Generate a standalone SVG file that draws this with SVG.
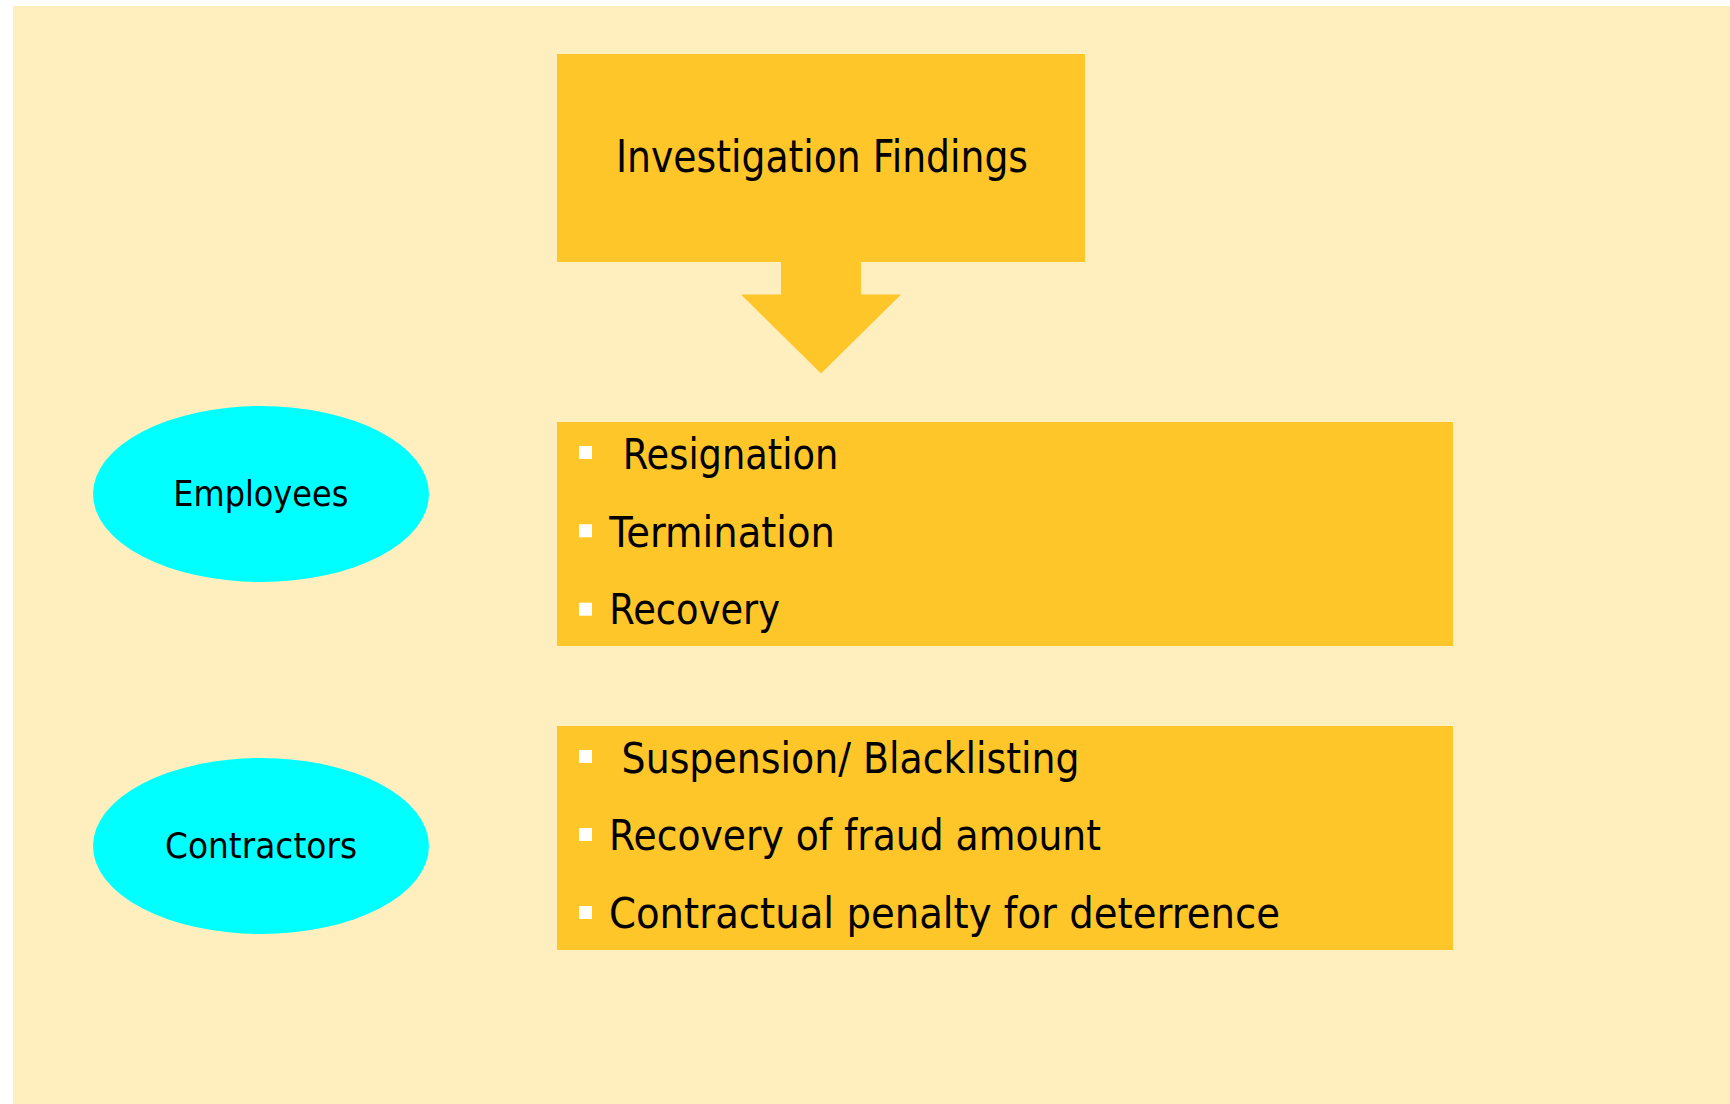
<svg xmlns="http://www.w3.org/2000/svg" width="1730" height="1104" viewBox="0 0 1730 1104">
<style>
.bg{fill:#FFEFBF}
.box{fill:#FFC629}
.ell{fill:#00FFFF}
.bul{fill:#FFFFFF}
text{font-family:"DejaVu Sans","Liberation Sans",sans-serif;fill:#000}
.t1{font-size:44px}
.t2{font-size:42px}
.t3{font-size:36px}
</style>
<rect x="0" y="0" width="1730" height="1104" fill="#FFFFFF"/>
<rect class="bg" x="13" y="6" width="1717" height="1098"/>
<g id="findings">
<rect class="box" x="557" y="54" width="528" height="208"/>
<text class="t1" x="616" y="171.7" textLength="412" lengthAdjust="spacingAndGlyphs">Investigation Findings</text>
</g>
<g id="connectors">
<polygon class="box" points="781,261 861,261 861,294.5 901,294.5 821,373.5 741,294.5 781,294.5"/>
</g>
<g id="employees">
<ellipse class="ell" cx="261" cy="494" rx="168" ry="88"/>
<text class="t3" x="173.3" y="506" textLength="175" lengthAdjust="spacingAndGlyphs">Employees</text>
</g>
<g id="employee-actions">
<rect class="box" x="557" y="422" width="896" height="224"/>
<rect class="bul" x="579" y="446" width="13" height="13"/>
<text class="t2" x="622.7" y="469" textLength="215.6" lengthAdjust="spacingAndGlyphs">Resignation</text>
<rect class="bul" x="579" y="524.3" width="13" height="13"/>
<text class="t2" x="609.3" y="546.7" textLength="225.7" lengthAdjust="spacingAndGlyphs">Termination</text>
<rect class="bul" x="579" y="602.7" width="13" height="13"/>
<text class="t2" x="609.3" y="624" textLength="170.7" lengthAdjust="spacingAndGlyphs">Recovery</text>
</g>
<g id="contractors">
<ellipse class="ell" cx="261" cy="846" rx="168" ry="88"/>
<text class="t3" x="165" y="857.9" textLength="192" lengthAdjust="spacingAndGlyphs">Contractors</text>
</g>
<g id="contractor-actions">
<rect class="box" x="557" y="726" width="896" height="224"/>
<rect class="bul" x="579" y="750" width="13" height="13"/>
<text class="t2" x="621.6" y="772.7" textLength="458" lengthAdjust="spacingAndGlyphs">Suspension/ Blacklisting</text>
<rect class="bul" x="579" y="828" width="13" height="13"/>
<text class="t2" x="609" y="850" textLength="492" lengthAdjust="spacingAndGlyphs">Recovery of fraud amount</text>
<rect class="bul" x="579" y="906" width="13" height="13"/>
<text class="t2" x="609" y="927.7" textLength="671" lengthAdjust="spacingAndGlyphs">Contractual penalty for deterrence</text>
</g>
</svg>
